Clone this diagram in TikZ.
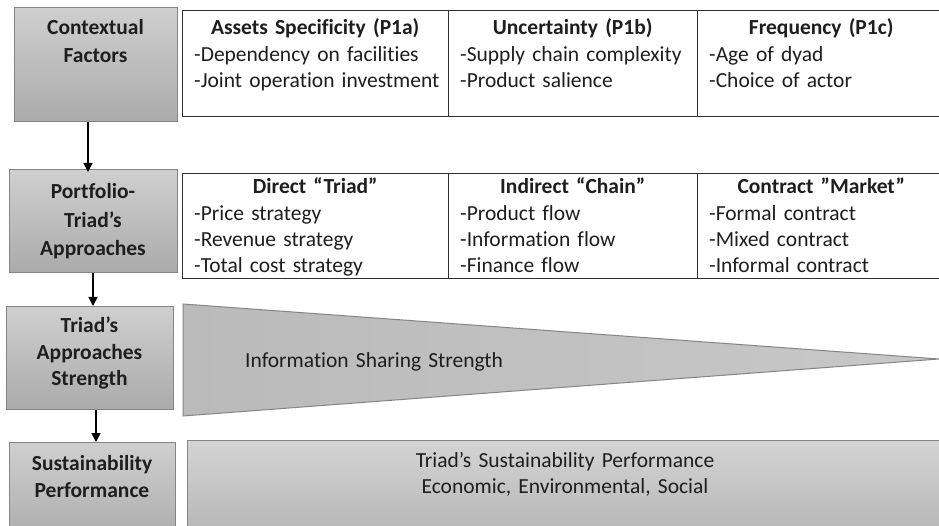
\documentclass[tikz,border=0pt]{standalone}
\usepackage{fontspec}
\setmainfont{Carlito}[Ligatures=NoCommon]
\usetikzlibrary{arrows.meta}
\definecolor{boxtop}{HTML}{CFCFCF}
\definecolor{boxbot}{HTML}{ABABAB}
\definecolor{boxline}{HTML}{858585}
\definecolor{wedgel}{HTML}{BABABA}
\definecolor{wedger}{HTML}{C8C8C8}
\definecolor{tabline}{HTML}{303030}
\definecolor{txt}{HTML}{1E1E1E}
\tikzset{
  graybox/.style={draw=boxline, line width=1pt, top color=boxtop, bottom color=boxbot, inner sep=0pt},
  boxtext/.style={font={\fontsize{21.5}{27.5}\selectfont\bfseries}, text width=170pt, align=center, anchor=base, inner sep=0pt, text=txt},
  cellbox/.style={draw=tabline, line width=1.3pt, fill=white, inner sep=0pt},
  celltext/.style={font={\fontsize{21.5}{26.3}\selectfont}, text width=270pt, align=left, anchor=base west, inner sep=0pt, text=txt},
  flowarrow/.style={draw=black, line width=1.3pt, -{Triangle[width=9pt,length=9pt]}},
}
\begin{document}
\begin{tikzpicture}[x=1pt,y=-1pt]
\useasboundingbox (0,0) rectangle (939,526);
\clip (0,0) rectangle (939,526);
\fill[white] (0,0) rectangle (939,526);

% ---- left gray boxes
\node[graybox, minimum width=163pt, minimum height=114pt, anchor=north west] (cf) at (14,7) {};
\node[boxtext] (cft) at (95.5,35) {Contextual\\Factors};

\node[graybox, minimum width=168pt, minimum height=103pt, anchor=north west] (pf) at (9,169) {};
\node[boxtext, font={\fontsize{21.5}{28.5}\selectfont\bfseries}] (pft) at (93,199) {Portfolio-\\Triad’s\\Approaches};

\node[graybox, minimum width=167pt, minimum height=103pt, anchor=north west] (tas) at (6,306) {};
\node[boxtext, font={\fontsize{21.5}{26.5}\selectfont\bfseries}] (tast) at (89.5,333) {Triad’s\\Approaches\\Strength};

\node[graybox, minimum width=166pt, minimum height=100pt, anchor=north west] (sp) at (9,442) {};
\node[boxtext, font={\fontsize{21.5}{27}\selectfont\bfseries}] (spt) at (92,470) {Sustainability\\Performance};

% ---- top table
\node[cellbox, minimum width=266pt, minimum height=106pt, anchor=north west] (c11) at (182,10) {};
\node[cellbox, minimum width=249pt, minimum height=106pt, anchor=north west] (c12) at (448,10) {};
\node[cellbox, minimum width=248pt, minimum height=106pt, anchor=north west] (c13) at (697,10) {};
\node[celltext] (t11) at (194,35) {\makebox[242pt][c]{\bfseries Assets Specificity (P1a)}\\-Dependency on facilities\\-Joint operation investment};
\node[celltext] (t12) at (460,35) {\makebox[225pt][c]{\bfseries Uncertainty (P1b)}\\-Supply chain complexity\\-Product salience};
\node[celltext] (t13) at (709,35) {\makebox[224pt][c]{\bfseries Frequency (P1c)}\\-Age of dyad\\-Choice of actor};

% ---- second table
\node[cellbox, minimum width=266pt, minimum height=105pt, anchor=north west] (c21) at (182,173) {};
\node[cellbox, minimum width=249pt, minimum height=105pt, anchor=north west] (c22) at (448,173) {};
\node[cellbox, minimum width=248pt, minimum height=105pt, anchor=north west] (c23) at (697,173) {};
\node[celltext] (t21) at (194,194) {\makebox[242pt][c]{\bfseries Direct “Triad”}\\-Price strategy\\-Revenue strategy\\-Total cost strategy};
\node[celltext] (t22) at (460,194) {\makebox[225pt][c]{\bfseries Indirect “Chain”}\\-Product flow\\-Information flow\\-Finance flow};
\node[celltext] (t23) at (709,194) {\makebox[224pt][c]{\bfseries Contract ”Market”}\\-Formal contract\\-Mixed contract\\-Informal contract};

% ---- wedge
\path[draw=boxline, line width=1pt, left color=wedgel, right color=wedger]
  (183,304) -- (183,416) -- (939,359) -- cycle;
\node[celltext] (wt) at (245,367) {Information Sharing Strength};

% ---- bottom wide box
\node[graybox, top color=boxtop!90!white, bottom color=boxbot!75!boxtop, minimum width=760pt, minimum height=100pt, anchor=north west] (perf) at (187,440) {};
\node[boxtext, text width=500pt, font={\fontsize{21.5}{26}\selectfont}] (perft) at (565,467) {Triad’s Sustainability Performance\\Economic, Environmental, Social};

% ---- arrows
\coordinate (a1) at (88,0);
\coordinate (a2) at (93,0);
\coordinate (a3) at (96,0);
\draw[flowarrow] (cf.south -| a1) -- ([yshift=-3pt]pf.north -| a1);
\draw[flowarrow] (pf.south -| a2) -- (tas.north -| a2);
\draw[flowarrow] (tas.south -| a3) -- (sp.north -| a3);
\end{tikzpicture}
\end{document}
